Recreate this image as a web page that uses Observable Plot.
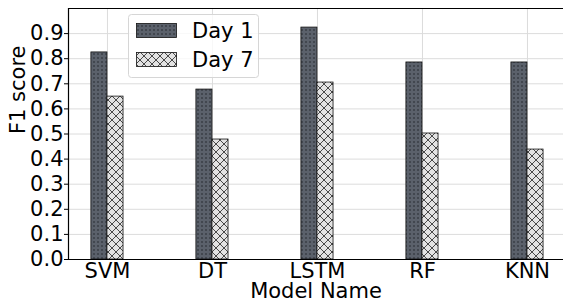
<!DOCTYPE html>
<html><head><meta charset="utf-8">
<script src="https://cdn.jsdelivr.net/npm/d3@7"></script>
<script src="https://cdn.jsdelivr.net/npm/@observablehq/plot@0.6"></script>
<style>
html,body{margin:0;padding:0;background:#fff;}
#chart{position:relative;width:563px;height:303px;}
svg{font-family:"DejaVu Sans",sans-serif;}
</style>
</head><body><div id="chart"></div>
<script>
const models = ["SVM", "DT", "LSTM", "RF", "KNN"];
const series = ["Day 1", "Day 7"];
const day1 = [0.825, 0.677, 0.924, 0.785, 0.785];
const day7 = [0.649, 0.478, 0.705, 0.502, 0.438];
const yTicks = [0.0, 0.1, 0.2, 0.3, 0.4, 0.5, 0.6, 0.7, 0.8, 0.9];

const w = 0.153;
const rows = [];
models.forEach((m, i) => {
  rows.push({i, s: series[0], v: day1[i], x1: i - w, x2: i});
  rows.push({i, s: series[1], v: day7[i], x1: i, x2: i + w});
});
const fills = {"Day 1": "url(#pDots)", "Day 7": "url(#pCross)"};
const FS = 21;

const plot = Plot.plot({
  width: 563,
  height: 303,
  marginLeft: 68,
  marginRight: 0,
  marginTop: 8,
  marginBottom: 44,
  style: {fontFamily: "DejaVu Sans, sans-serif", fontSize: FS + "px", background: "#fff", color: "#000"},
  x: {domain: [-0.371, 4.343], label: null, axis: null},
  y: {domain: [0, 1], label: null, axis: null},
  marks: [
    Plot.ruleY(yTicks.slice(1), {stroke: "#dcdcdc", strokeWidth: 1}),
    Plot.ruleX(d3.range(models.length), {stroke: "#dcdcdc", strokeWidth: 1}),
    Plot.rectY(rows, {x1: "x1", x2: "x2", y1: 0, y2: "v", fill: d => fills[d.s], stroke: "#111", strokeWidth: 0.8}),
    Plot.axisY(yTicks, {tickSize: 4, tickPadding: 1, tickFormat: d => d.toFixed(1), fontSize: FS, stroke: "#000", label: null}),
    Plot.axisX(d3.range(models.length), {tickSize: 0, tickPadding: 4, tickFormat: i => models[i], fontSize: FS, label: null}),
    Plot.ruleY([0], {stroke: "#000", strokeWidth: 1.2}),
    Plot.ruleY([1], {stroke: "#000", strokeWidth: 1.2}),
    Plot.ruleX([-0.371], {stroke: "#000", strokeWidth: 1.2}),
    Plot.text(["Model Name"], {frameAnchor: "bottom", dy: 38, fontSize: FS, lineAnchor: "bottom"}),
    Plot.text(["F1 score"], {frameAnchor: "left", dx: -50, rotate: -90, fontSize: FS})
  ]
});

const svg = d3.select(plot);
svg.style("overflow", "visible");
const defs = svg.insert("defs", ":first-child");
const pd = defs.append("pattern").attr("id", "pDots").attr("patternUnits", "userSpaceOnUse")
  .attr("width", 4).attr("height", 4);
pd.append("rect").attr("width", 4).attr("height", 4).attr("fill", "#5b616b");
pd.append("circle").attr("cx", 2).attr("cy", 2).attr("r", 0.75).attr("fill", "#1c1f24");
const pc = defs.append("pattern").attr("id", "pCross").attr("patternUnits", "userSpaceOnUse")
  .attr("width", 8).attr("height", 8);
pc.append("rect").attr("width", 8).attr("height", 8).attr("fill", "#e3e3e3");
pc.append("path").attr("d", "M0,0L8,8M8,0L0,8M-1,7L1,9M7,-1L9,1M-1,1L1,-1M7,9L9,7")
  .attr("stroke", "#222").attr("stroke-width", 0.8).attr("fill", "none");

// legend
const lg = svg.append("g").attr("font-family", "DejaVu Sans, sans-serif").attr("font-size", FS)
  .attr("text-anchor", "start");
lg.append("rect").attr("x", 128.5).attr("y", 14.5).attr("width", 130).attr("height", 63).attr("rx", 3)
  .attr("fill", "rgba(255,255,255,0.8)").attr("stroke", "#d6d6d6");
series.forEach((s, k) => {
  const y = 23 + k * 29;
  lg.append("rect").attr("x", 136.5).attr("y", y + 0.5).attr("width", 40).attr("height", 14)
    .attr("fill", fills[s]).attr("stroke", "#111").attr("stroke-width", 0.8);
  lg.append("text").attr("x", 192).attr("y", y + 15).attr("text-anchor", "start").text(s);
});

document.getElementById("chart").appendChild(plot);
</script>
</body></html>
